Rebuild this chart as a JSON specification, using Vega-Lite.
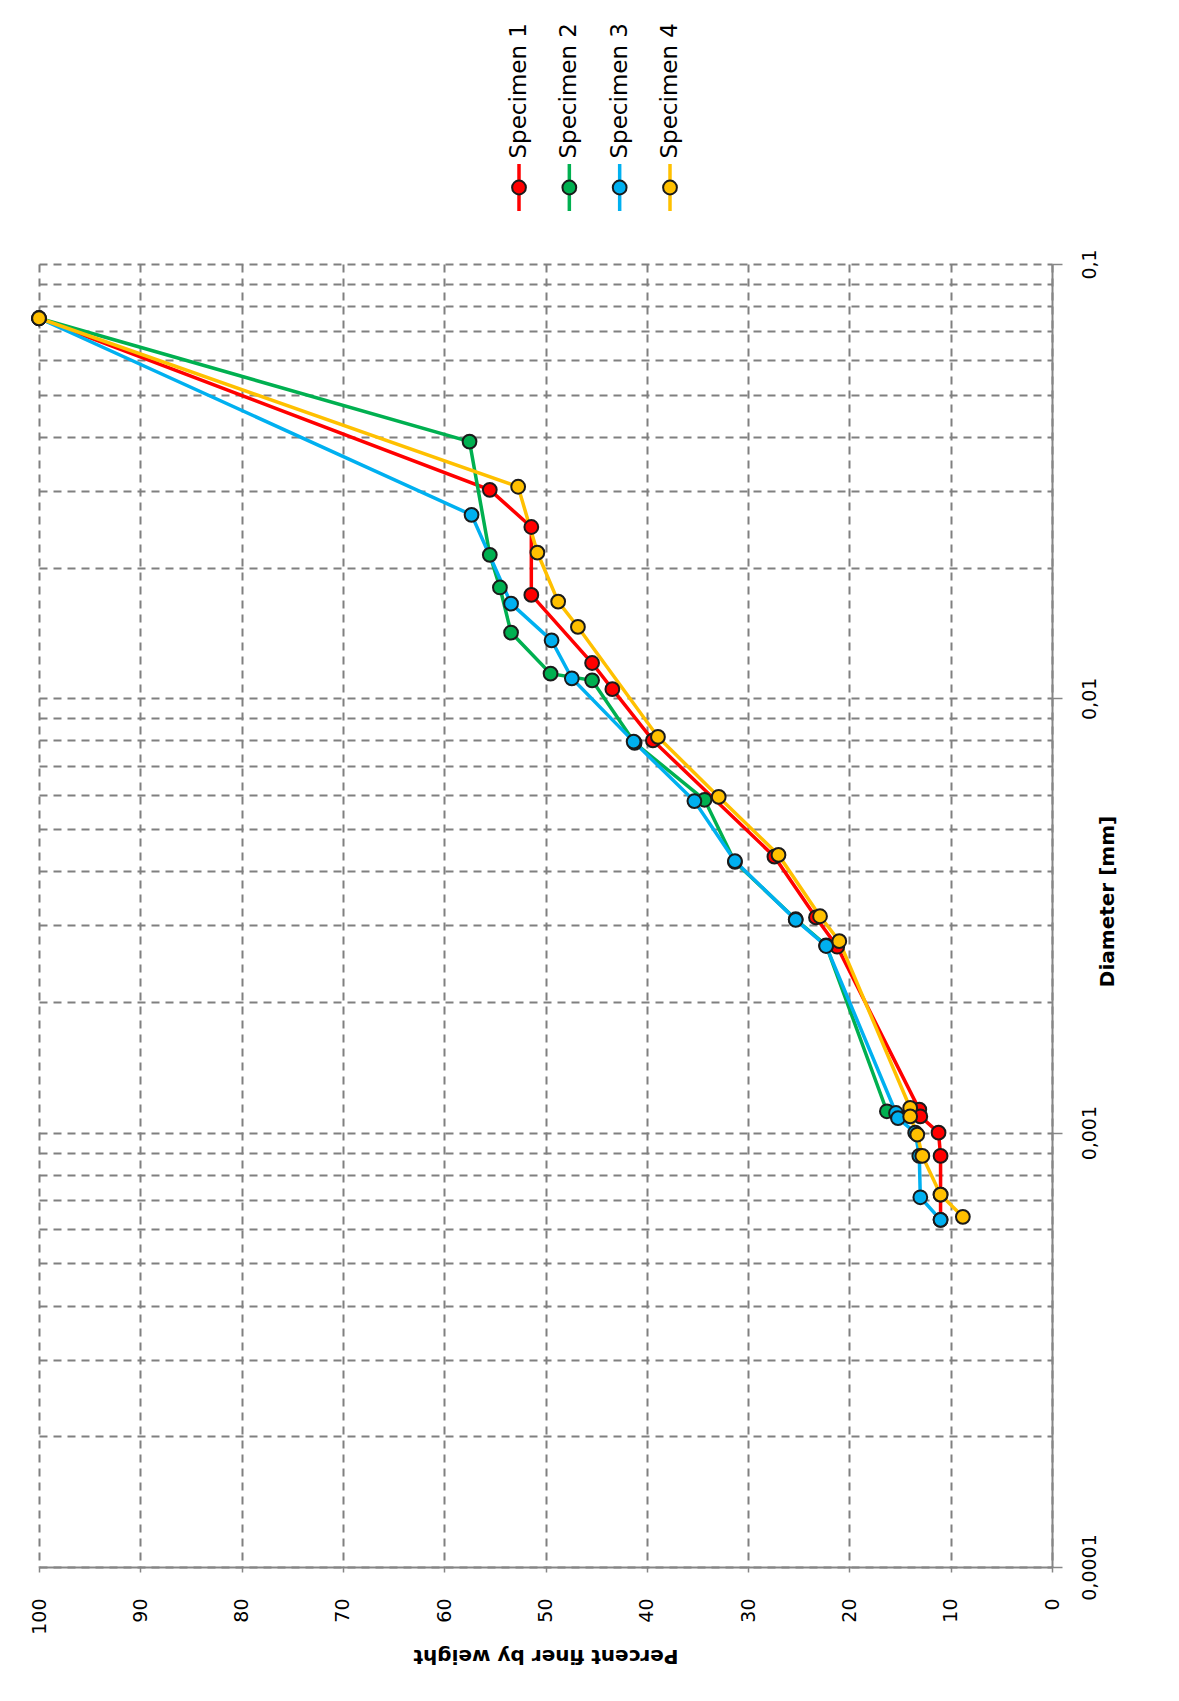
{
  "$schema": "https://vega.github.io/schema/vega-lite/v6.json",
  "background": "white",
  "autosize": {"type": "pad"},
  "padding": {"left": 28, "top": 23, "right": 10, "bottom": 10},
  "spacing": 53,
  "bounds": "flush",
  "config": {"view": {"stroke": null}, "font": "DejaVu Sans"},
  "resolve": {"scale": {"x": "independent", "y": "independent"}},
  "datasets": {
    "points": [
      {"Specimen": "Specimen 1", "d": 0.075, "pct": 100},
      {"Specimen": "Specimen 1", "d": 0.0302, "pct": 55.5},
      {"Specimen": "Specimen 1", "d": 0.0248, "pct": 51.4},
      {"Specimen": "Specimen 1", "d": 0.0173, "pct": 51.4},
      {"Specimen": "Specimen 1", "d": 0.01206, "pct": 45.4},
      {"Specimen": "Specimen 1", "d": 0.0105, "pct": 43.4},
      {"Specimen": "Specimen 1", "d": 0.0080, "pct": 39.4},
      {"Specimen": "Specimen 1", "d": 0.00432, "pct": 27.4},
      {"Specimen": "Specimen 1", "d": 0.00313, "pct": 23.3},
      {"Specimen": "Specimen 1", "d": 0.00268, "pct": 21.2},
      {"Specimen": "Specimen 1", "d": 0.00113, "pct": 13.1},
      {"Specimen": "Specimen 1", "d": 0.00109, "pct": 13.0},
      {"Specimen": "Specimen 1", "d": 0.00100, "pct": 11.2},
      {"Specimen": "Specimen 1", "d": 0.000884, "pct": 11.0},
      {"Specimen": "Specimen 1", "d": 0.00072, "pct": 11.0},
      {"Specimen": "Specimen 1", "d": 0.00063, "pct": 11.0},
      {"Specimen": "Specimen 2", "d": 0.075, "pct": 100},
      {"Specimen": "Specimen 2", "d": 0.039, "pct": 57.5},
      {"Specimen": "Specimen 2", "d": 0.0214, "pct": 55.5},
      {"Specimen": "Specimen 2", "d": 0.018, "pct": 54.5},
      {"Specimen": "Specimen 2", "d": 0.01417, "pct": 53.4},
      {"Specimen": "Specimen 2", "d": 0.0114, "pct": 49.5},
      {"Specimen": "Specimen 2", "d": 0.0110, "pct": 45.4},
      {"Specimen": "Specimen 2", "d": 0.0079, "pct": 41.2},
      {"Specimen": "Specimen 2", "d": 0.00584, "pct": 34.3},
      {"Specimen": "Specimen 2", "d": 0.0042, "pct": 31.3},
      {"Specimen": "Specimen 2", "d": 0.0031, "pct": 25.3},
      {"Specimen": "Specimen 2", "d": 0.0027, "pct": 22.3},
      {"Specimen": "Specimen 2", "d": 0.00112, "pct": 16.3},
      {"Specimen": "Specimen 2", "d": 0.00109, "pct": 15.2},
      {"Specimen": "Specimen 3", "d": 0.075, "pct": 100},
      {"Specimen": "Specimen 3", "d": 0.02645, "pct": 57.3},
      {"Specimen": "Specimen 3", "d": 0.01652, "pct": 53.4},
      {"Specimen": "Specimen 3", "d": 0.0136, "pct": 49.4},
      {"Specimen": "Specimen 3", "d": 0.01112, "pct": 47.4},
      {"Specimen": "Specimen 3", "d": 0.00795, "pct": 41.3},
      {"Specimen": "Specimen 3", "d": 0.0058, "pct": 35.3},
      {"Specimen": "Specimen 3", "d": 0.00422, "pct": 31.3},
      {"Specimen": "Specimen 3", "d": 0.00309, "pct": 25.3},
      {"Specimen": "Specimen 3", "d": 0.00269, "pct": 22.3},
      {"Specimen": "Specimen 3", "d": 0.00111, "pct": 15.4},
      {"Specimen": "Specimen 3", "d": 0.00108, "pct": 15.2},
      {"Specimen": "Specimen 3", "d": 0.00100, "pct": 13.5},
      {"Specimen": "Specimen 3", "d": 0.000884, "pct": 13.1},
      {"Specimen": "Specimen 3", "d": 0.00071, "pct": 13.0},
      {"Specimen": "Specimen 3", "d": 0.00063, "pct": 11.0},
      {"Specimen": "Specimen 4", "d": 0.075, "pct": 100},
      {"Specimen": "Specimen 4", "d": 0.0307, "pct": 52.7},
      {"Specimen": "Specimen 4", "d": 0.02166, "pct": 50.8},
      {"Specimen": "Specimen 4", "d": 0.0167, "pct": 48.75},
      {"Specimen": "Specimen 4", "d": 0.0146, "pct": 46.8},
      {"Specimen": "Specimen 4", "d": 0.00815, "pct": 38.9},
      {"Specimen": "Specimen 4", "d": 0.00593, "pct": 32.9},
      {"Specimen": "Specimen 4", "d": 0.00436, "pct": 27.0},
      {"Specimen": "Specimen 4", "d": 0.00315, "pct": 22.9},
      {"Specimen": "Specimen 4", "d": 0.00276, "pct": 21.0},
      {"Specimen": "Specimen 4", "d": 0.00114, "pct": 14.0},
      {"Specimen": "Specimen 4", "d": 0.00109, "pct": 14.0},
      {"Specimen": "Specimen 4", "d": 0.00099, "pct": 13.3},
      {"Specimen": "Specimen 4", "d": 0.000884, "pct": 12.8},
      {"Specimen": "Specimen 4", "d": 0.00072, "pct": 11.0},
      {"Specimen": "Specimen 4", "d": 0.00064, "pct": 8.8}
    ],
    "legendItems": [
      {"Specimen": "Specimen 1"},
      {"Specimen": "Specimen 2"},
      {"Specimen": "Specimen 3"},
      {"Specimen": "Specimen 4"}
    ]
  },
  "vconcat": [
    {
      "width": 1013,
      "height": 47,
      "data": {"name": "legendItems"},
      "encoding": {
        "x": {"field": "Specimen", "type": "nominal", "scale": {"type": "point", "range": [480, 631], "padding": 0}, "axis": null}
      },
      "layer": [
        {
          "mark": {"type": "rule", "strokeWidth": 3.5},
          "encoding": {
            "color": {"field": "Specimen", "type": "nominal", "scale": {"domain": ["Specimen 1", "Specimen 2", "Specimen 3", "Specimen 4"], "range": ["#FF0000", "#00B050", "#00B0F0", "#FFC000"]}, "legend": null}
          }
        },
        {
          "mark": {"type": "point", "filled": true, "size": 190, "opacity": 1, "strokeWidth": 2},
          "encoding": {
            "fill": {"field": "Specimen", "type": "nominal", "scale": {"domain": ["Specimen 1", "Specimen 2", "Specimen 3", "Specimen 4"], "range": ["#FF0000", "#00B050", "#00B0F0", "#FFC000"]}, "legend": null},
            "stroke": {"value": "#1a1a1a"}
          }
        },
        {
          "mark": {"type": "text", "angle": 270, "align": "left", "baseline": "middle", "dx": 29, "fontSize": 23, "font": "DejaVu Sans", "color": "#000000"},
          "encoding": {"text": {"field": "Specimen"}}
        }
      ]
    },
    {
      "width": 1013,
      "height": 1303,
      "data": {"name": "points"},
      "encoding": {
        "x": {
          "field": "pct", "type": "quantitative",
          "scale": {"domain": [0, 100], "reverse": true, "nice": false, "zero": false},
          "axis": {
            "orient": "bottom",
            "values": [0, 10, 20, 30, 40, 50, 60, 70, 80, 90, 100],
            "labelAngle": 270, "labelAlign": "right", "labelBaseline": "middle",
            "labelFont": "DejaVu Sans", "labelFontSize": 19, "labelColor": "#000000",
            "labelPadding": 26, "labelFlush": false, "labelOverlap": false,
            "tickSize": 5, "tickColor": "#868686", "tickWidth": 1.5,
            "domainColor": "#868686", "domainWidth": 2,
            "grid": true, "gridColor": "#808080", "gridDash": [8, 6], "gridWidth": 2,
            "title": "Percent finer by weight",
            "titleAngle": 180, "titleFont": "DejaVu Sans", "titleFontSize": 20, "titleFontWeight": "bold",
            "titleColor": "#000000", "titleY": 88, "titleAlign": "center", "titleBaseline": "middle"
          }
        },
        "y": {
          "field": "d", "type": "quantitative",
          "scale": {"type": "log", "domain": [0.0001, 0.1], "nice": false},
          "axis": {
            "orient": "right",
            "values": [0.0001, 0.0002, 0.0003, 0.0004, 0.0005, 0.0006, 0.0007, 0.0008, 0.0009, 0.001, 0.002, 0.003, 0.004, 0.005, 0.006, 0.007, 0.008, 0.009, 0.01, 0.02, 0.03, 0.04, 0.05, 0.06, 0.07, 0.08, 0.09, 0.1],
            "labelExpr": "datum.value == 0.1 ? '0,1' : datum.value == 0.01 ? '0,01' : datum.value == 0.001 ? '0,001' : datum.value == 0.0001 ? '0,0001' : ''",
            "labelAngle": 270, "labelAlign": "center", "labelBaseline": "top",
            "labelFont": "DejaVu Sans", "labelFontSize": 19, "labelColor": "#000000",
            "labelPadding": 18, "labelFlush": false, "labelOverlap": false,
            "tickSize": 10, "tickColor": "#868686", "tickWidth": 1.5,
            "tickOpacity": {"condition": {"test": "datum.value == 0.1 || datum.value == 0.01 || datum.value == 0.001 || datum.value == 0.0001", "value": 1}, "value": 0},
            "domainColor": "#868686", "domainWidth": 2,
            "grid": true, "gridColor": "#808080", "gridDash": [8, 6], "gridWidth": 2,
            "title": "Diameter [mm]",
            "titleAngle": 270, "titleFont": "DejaVu Sans", "titleFontSize": 20, "titleFontWeight": "bold",
            "titleColor": "#000000", "titleX": 55, "titleY": 637, "titleAlign": "center", "titleBaseline": "middle"
          }
        }
      },
      "layer": [
        {
          "mark": {"type": "line", "strokeWidth": 3.5},
          "encoding": {
            "color": {"field": "Specimen", "type": "nominal", "scale": {"domain": ["Specimen 1", "Specimen 2", "Specimen 3", "Specimen 4"], "range": ["#FF0000", "#00B050", "#00B0F0", "#FFC000"]}, "legend": null},
            "order": {"field": "d", "type": "quantitative"}
          }
        },
        {
          "mark": {"type": "point", "filled": true, "size": 190, "opacity": 1, "strokeWidth": 2},
          "encoding": {
            "fill": {"field": "Specimen", "type": "nominal", "scale": {"domain": ["Specimen 1", "Specimen 2", "Specimen 3", "Specimen 4"], "range": ["#FF0000", "#00B050", "#00B0F0", "#FFC000"]}, "legend": null},
            "stroke": {"value": "#1a1a1a"}
          }
        }
      ]
    }
  ]
}
